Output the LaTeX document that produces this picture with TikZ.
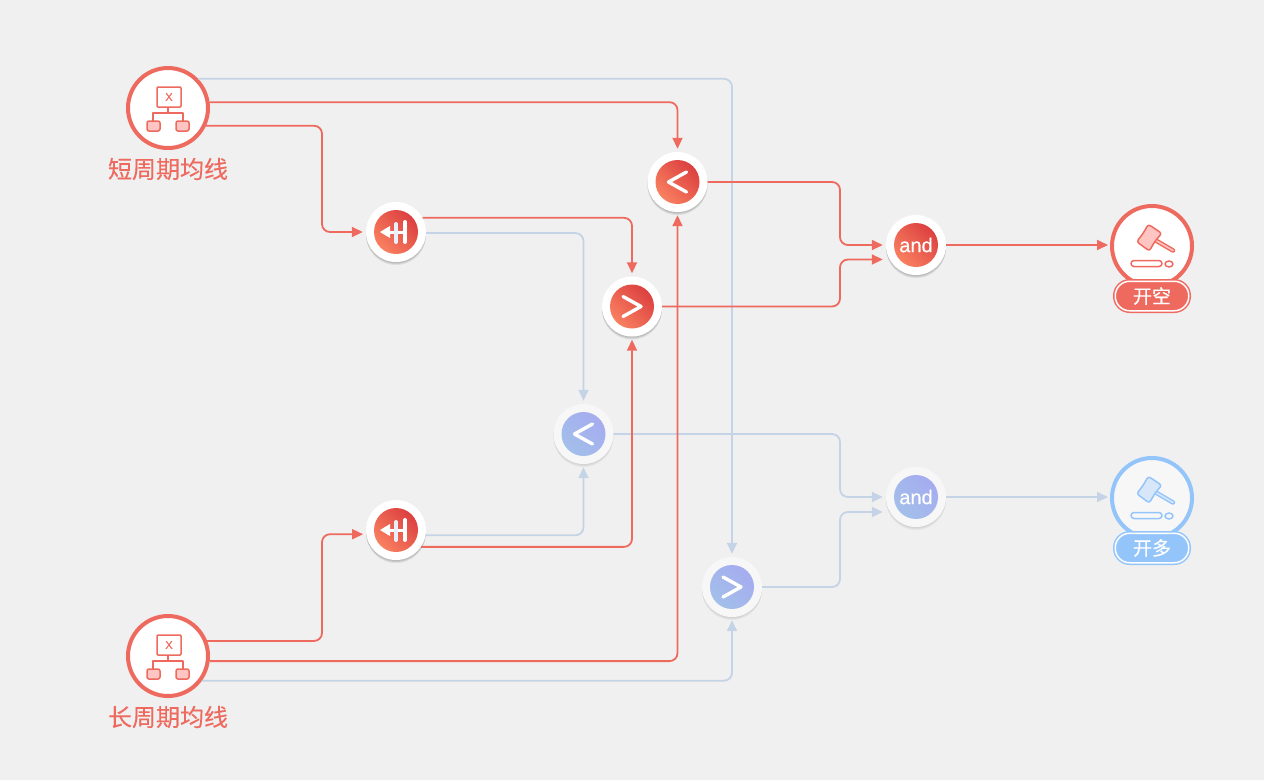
\documentclass[tikz,border=0pt]{standalone}
\usepackage{fontspec}
\setmainfont{Liberation Sans}
\newfontfamily\cjk[FakeBold=.25]{Noto Sans CJK SC}
\newfontfamily\gatefont[FakeBold=.3]{Liberation Sans}
\usetikzlibrary{calc, shadows, arrows.meta}
\definecolor{bgcol}{HTML}{F0F0F0}
\definecolor{redcol}{HTML}{EE6A5F}
\definecolor{bluecol}{HTML}{C5D3E6}
\definecolor{skycol}{HTML}{93C5FA}
\definecolor{pinkcol}{HTML}{FFC5C2}
\definecolor{palecol}{HTML}{D8E6FA}
\definecolor{ringcol}{HTML}{F7F7F7}
\definecolor{redtop}{HTML}{DC4040}
\definecolor{redlow}{HTML}{F98060}
\definecolor{bluetop}{HTML}{A5ACEF}
\definecolor{bluelow}{HTML}{A3BFEA}
\tikzset{
  softshadow/.style={
    drop shadow={shadow xshift=0pt,shadow yshift=-1pt,opacity=#1,fill=black},
    drop shadow={shadow xshift=0pt,shadow yshift=-2pt,opacity=#1,fill=black},
    drop shadow={shadow xshift=0pt,shadow yshift=-3pt,opacity=#1,fill=black}},
  redwire/.style={->,draw=redcol,line width=1.8pt,rounded corners=8pt,shorten >=3pt},
  bluewire/.style={->,draw=bluecol,line width=1.8pt,rounded corners=8pt,shorten >=3pt},
  source/.style={circle,draw=redcol,fill=white,line width=4pt,minimum size=80pt,inner sep=0pt},
  redgate/.style={circle,fill=white,minimum size=60pt,inner sep=0pt,softshadow=.08},
  bluegate/.style={circle,fill=ringcol,minimum size=60pt,inner sep=0pt,softshadow=.04},
  redcore/.style={circle,minimum size=44pt,inner sep=0pt,text=white,font=\gatefont\fontsize{20}{20}\selectfont,
    top color=redtop,bottom color=redlow,shading angle=-45},
  bluecore/.style={circle,minimum size=44pt,inner sep=0pt,text=white,font=\gatefont\fontsize{20}{20}\selectfont,
    top color=bluetop,bottom color=bluelow,shading angle=-45},
  namelabel/.style={text=redcol,font=\cjk\fontsize{24}{24}\selectfont,inner sep=0pt},
  pill/.style={rectangle,draw=#1,fill=#1,double=white,double distance=1.5pt,line width=1.5pt,
    minimum width=73.5pt,minimum height=29.5pt,rounded corners=14.5pt,inner sep=0pt,
    text=white,font=\cjk\fontsize{19}{19}\selectfont},
  pics/chevron/.style={code={
    \draw [white,line width=3.4pt,line cap=round,line join=round] (-#1,-10) -- (#1,0) -- (-#1,10);}},
  pics/holdicon/.style={code={
    \draw [white,line width=3pt] (-9,0) -- (9,0);
    \fill [white] (-16,0) -- (-6,-6) -- (-6,6) -- cycle;
    \draw [white!40!palecol,line width=4pt,line cap=round] (0,-8) -- (0,10);
    \draw [white,line width=4pt,line cap=round] (9,-10) -- (9,10);}},
  pics/maicon/.style={code={
    \draw [redcol,fill=white,line width=1.5pt,rounded corners=1pt] (-11,-21) rectangle (13,-1);
    \node (sym) at (1,-11) [text=redcol,inner sep=0pt,font=\gatefont\fontsize{11}{11}\selectfont] {X};
    \draw [redcol,line width=1.5pt] (0,-1) -- (0,5) (-15,13) -- (-15,5) -- (15,5) -- (15,13);
    \draw [redcol,fill=pinkcol,line width=1.5pt,rounded corners=2pt] (-21,13) rectangle (-8,23);
    \draw [redcol,fill=pinkcol,line width=1.5pt,rounded corners=2pt] (8,13) rectangle (21,23);}},
  pics/hammer/.style 2 args={code={
    \draw [#1,line width=4.5pt,line cap=round] (3,-6) -- (21,4.5);
    \draw [#2,line width=1.6pt,line cap=round] (3,-6) -- (21,4.5);
    \draw [#1,fill=#2,line width=1.5pt,rounded corners=2.5pt] (-3.7,-21.7) -- (9.7,-12.7) -- (3.2,-5.1)
      -- (-2.7,5) -- (-15.3,-4.3) -- (-9,-12.5) -- cycle;
    \draw [#1,line width=1.5pt,rounded corners=3pt] (-21,14.5) rectangle (10,20.5);
    \draw [#1,line width=1.5pt] (17,18) ellipse (4 and 3);}},
}
\begin{document}
\begin{tikzpicture}[x=1pt,y=-1pt,>={Triangle[length=11pt,width=10pt]},line join=round]
  \fill [bgcol] (0,0) rectangle (1264,780);
  \useasboundingbox (0,0) rectangle (1264,780);
  % Coordinates of the two vertical runs
  \coordinate (busa) at (322,0);
  \coordinate (busb) at (840,0);
  % Node: sources
  \path (168,108) node [source] (sma) {};
  \path (168,656) node [source] (lma) {};
  % Node: outputs
  \path (1152,246) node [source] (short) {};
  \path (1152,498) node [source,draw=skycol,fill=ringcol] (long) {};
  % Node: gates
  \path (396,232) node [redgate] (reda) {};
  \path (396,530) node [redgate] (redb) {};
  \path (677.5,182) node [redgate] (lta) {};
  \path (632,306.5) node [redgate] (gta) {};
  \path (583.5,434) node [bluegate] (ltb) {};
  \path (732,587) node [bluegate] (gtb) {};
  \path (916,245) node [redgate] (anda) {};
  \path (916,497) node [bluegate] (andb) {};
  \coordinate (andain) at ($(anda.west)+(0,14.5)$);
  \coordinate (andbin) at ($(andb.west)+(0,15)$);
  % Edge: sma -- gtb
  \draw [bluewire] (sma.44) -| (gtb.north);
  % Edge: reda -- ltb
  \draw [bluewire] (reda.-2) -| (ltb.north);
  % Edge: redb -- ltb
  \draw [bluewire] (redb.-10) -| (ltb.south);
  % Edge: lma -- gtb
  \draw [bluewire] (lma.-36) -| (gtb.south);
  % Edge: ltb -- andb
  \draw [bluewire] (ltb.east) -| (busb |- andb.west) -- (andb.west);
  % Edge: gtb -- andb
  \draw [bluewire] (gtb.east) -| (busb |- andbin) -- (andbin);
  % Edge: andb -- long
  \draw [bluewire,shorten >=2pt] (andb.east) -- (andb.east -| long.west);
  % Edge: sma -- lta
  \draw [redwire] (sma.8) -| (lta.north);
  % Edge: sma -- reda
  \draw [redwire] (sma.-25) -| (busa |- reda.west) -- (reda.west);
  % Edge: reda -- gta
  \draw [redwire] (reda.28) -| (gta.north);
  % Edge: lma -- redb
  \draw [redwire] (lma.21) -| (busa |- redb.188) -- (redb.188);
  % Edge: redb -- gta
  \draw [redwire] (redb.-34) -| (gta.south);
  % Edge: lma -- lta
  \draw [redwire] (lma.-7) -| (lta.south);
  % Edge: lta -- anda
  \draw [redwire] (lta.east) -| (busb |- anda.west) -- (anda.west);
  % Edge: gta -- anda
  \draw [redwire] (gta.east) -| (busb |- andain) -- (andain);
  % Edge: anda -- short
  \draw [redwire,shorten >=2pt] (anda.east) -- (anda.east -| short.west);
  % Node: gate faces
  \node [redcore] (redaface) at (reda) {};
  \node [redcore] (redbface) at (redb) {};
  \node [redcore] (ltaface) at (lta) {};
  \node [redcore] (gtaface) at (gta) {};
  \node [bluecore] (ltbface) at (ltb) {};
  \node [bluecore] (gtbface) at (gtb) {};
  \node [redcore] (andaface) at (anda) {and};
  \node [bluecore] (andbface) at (andb) {and};
  % Icons
  \pic at (reda) {holdicon};
  \pic at (redb) {holdicon};
  \pic at (lta) {chevron=-9};
  \pic at (gta) {chevron=9};
  \pic at (ltb) {chevron=-9};
  \pic at (gtb) {chevron=9};
  \pic (smaicon) at (sma) {maicon};
  \pic (lmaicon) at (lma) {maicon};
  \pic at (short) {hammer={redcol}{pinkcol}};
  \pic at (long) {hammer={skycol}{palecol}};
  % Node: labels
  \node [namelabel] (smaname) at (168,169) {短周期均线};
  \node [namelabel] (lmaname) at (168,717) {长周期均线};
  \node [pill=redcol] (shortname) at (1152,296) {开空};
  \node [pill=skycol] (longname) at (1152,548) {开多};
\end{tikzpicture}
\end{document}
